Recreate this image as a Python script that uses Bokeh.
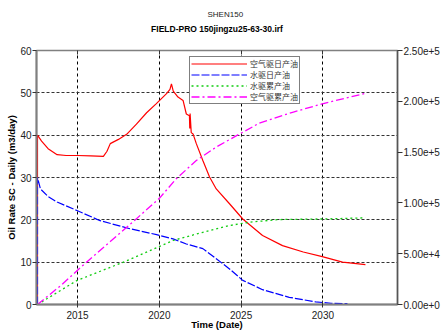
from bokeh.plotting import figure
from bokeh.models import (LinearAxis, Range1d, FixedTicker, Title, Legend,
                          LegendItem)
from bokeh.embed import file_html
from bokeh.resources import INLINE

# ---------------- data ----------------
title_top = "SHEN150"
title_main = "FIELD-PRO 150jingzu25-63-30.irf"
x_label = "Time (Date)"
y_label = "Oil Rate SC - Daily (m3/day)"
legend_labels = ["空气驱日产油", "水驱日产油", "水驱累产油", "空气驱累产油"]

x_ticks = [2015, 2020, 2025, 2030]
y_ticks = [0, 10, 20, 30, 40, 50, 60]
cum_ticks = [0, 50000, 100000, 150000, 200000, 250000]
cum_tick_labels = ["0.00e+0", "5.00e+4", "1.00e+5", "1.50e+5", "2.00e+5", "2.50e+5"]

# air flood daily oil (m3/day)
air_rate_year = [2012.55, 2012.55, 2012.8, 2013.2, 2013.75, 2014.3, 2015.0, 2015.8,
                 2016.58, 2016.8, 2017.0, 2017.5, 2018.0, 2018.6, 2019.22, 2019.8,
                 2020.44, 2020.65, 2020.74, 2020.85, 2021.14, 2021.45, 2021.65, 2021.84,
                 2021.86, 2021.88, 2021.95, 2022.06, 2022.26, 2022.66, 2023.07, 2023.48,
                 2024.29, 2025.1, 2026.31, 2027.53, 2028.8, 2029.96, 2031.2, 2032.6]
air_rate = [0, 40.0, 38.6, 36.8, 35.4, 35.2, 35.2, 35.1,
            35.0, 36.2, 38.0, 39.0, 40.2, 42.6, 45.3, 47.4,
            49.8, 50.8, 52.1, 50.4, 49.0, 48.2, 45.0, 44.6,
            41.6, 45.1, 40.6, 40.3, 38.0, 34.0, 30.1, 27.3,
            23.8, 20.2, 16.3, 13.9, 12.4, 11.3, 10.0, 9.4]

# water flood daily oil (m3/day)
water_rate_year = [2012.55, 2012.55, 2012.73, 2013.2, 2013.75, 2014.96, 2016.38, 2018.2,
                   2019.83, 2020.84, 2021.65, 2022.66, 2023.48, 2024.29, 2025.1, 2026.31,
                   2027.94, 2029.56, 2030.5, 2031.5]
water_rate = [0, 30.0, 27.3, 25.5, 24.2, 22.2, 19.8, 17.9,
              16.5, 15.5, 14.3, 13.2, 10.8, 8.4, 5.7, 3.5,
              1.7, 0.6, 0.3, 0.2]

# water flood cumulative oil (m3)
water_cum_year = [2012.55, 2014.96, 2017.9, 2020.84, 2022.66, 2024.29, 2025.5, 2027.3,
                  2030.4, 2032.6]
water_cum = [0, 23600, 42300, 63000, 71100, 77700, 81000, 83600, 84300, 85300]

# air flood cumulative oil (m3)
air_cum_year = [2012.55, 2014.0, 2015.5, 2017.0, 2018.5, 2020.0, 2021.05, 2022.26,
                2023.48, 2024.9, 2026.1, 2028.14, 2029.96, 2032.6]
air_cum = [0, 19000, 41000, 62000, 83000, 104500, 124000, 141700,
           155000, 167800, 178400, 189200, 197500, 207900]

# ---------------- figure ----------------
FONT = "Liberation Sans"
p = figure(width=442, height=334, output_backend="svg", toolbar_location=None,
           title=None, x_range=Range1d(2012.49, 2034.56), y_range=Range1d(0, 60),
           min_border_left=36, min_border_right=43, min_border_top=50,
           min_border_bottom=30)
p.extra_y_ranges = {"cum": Range1d(0, 250000)}
p.background_fill_color = "white"
p.border_fill_color = "white"
p.outline_line_color = "#808080"
p.outline_line_width = 1.5

xa = p.below[0]
ya = p.left[0]

# top axis: small inward ticks on the top border; its label carries the main title
ta = LinearAxis(ticker=FixedTicker(ticks=x_ticks), axis_label=title_main)
ta.major_tick_in = 4
ta.major_tick_out = 0
ta.minor_tick_line_color = None
ta.major_tick_line_color = "#333333"
ta.axis_line_color = "#808080"
ta.major_label_text_color = None
ta.axis_label_text_font = FONT
ta.axis_label_text_font_size = "8.5px"
ta.axis_label_text_font_style = "bold"
ta.axis_label_text_color = "black"
ta.axis_label_standoff = 17
p.add_layout(ta, "above")

p.add_layout(Title(text=title_top, text_font=FONT, text_font_size="8px",
                   text_font_style="normal", align="left", offset=171, standoff=4,
                   text_color="#222222"), "above")

# axes
xa.ticker = FixedTicker(ticks=x_ticks)
xa.axis_label = x_label
ya.ticker = FixedTicker(ticks=y_ticks)
ya.axis_label = y_label

ra = LinearAxis(y_range_name="cum", ticker=FixedTicker(ticks=cum_ticks), axis_label=None)
ra.major_label_overrides = {t: s for t, s in zip(cum_ticks, cum_tick_labels)}
p.add_layout(ra, "right")

for ax in (xa, ya, ra):
    ax.axis_label_text_font = FONT
    ax.axis_label_text_font_size = "9.5px"
    ax.axis_label_text_font_style = "bold"
    ax.axis_label_text_color = "black"
    ax.axis_label_standoff = 0
    ax.major_label_text_font = FONT
    ax.major_label_text_font_size = "10px"
    ax.major_label_text_color = "#222222"
    ax.major_label_standoff = 2
    ax.minor_tick_line_color = None
    ax.major_tick_line_color = "#333333"
xa.axis_line_color = "#808080"
xa.axis_line_width = 2
xa.major_tick_in = 4
xa.major_tick_out = 3
xa.major_label_standoff = 3
xa.axis_label_standoff = -3
ya.axis_line_color = "#808080"
ya.axis_line_width = 2
ya.major_tick_in = 0
ya.major_tick_out = 4
ya.major_label_standoff = 1
ra.axis_line_color = "#555555"
ra.axis_line_width = 1.5
ra.major_tick_in = 0
ra.major_tick_out = 5
ra.major_label_standoff = 1

# grid
p.xgrid.ticker = FixedTicker(ticks=x_ticks)
p.ygrid.ticker = FixedTicker(ticks=y_ticks)
p.xgrid.grid_line_color = "black"
p.xgrid.grid_line_dash = "3 3"
p.xgrid.grid_line_width = 1
p.ygrid.grid_line_color = "#333333"
p.ygrid.grid_line_dash = "3 2"
p.ygrid.grid_line_width = 1

# series
r_air = p.line(air_rate_year, air_rate, line_color="#ff0000", line_width=1.2)
r_wat = p.line(water_rate_year, water_rate, line_color="#0000ff", line_width=1.2,
               line_dash="8 2")
r_wcum = p.line(water_cum_year, water_cum, line_color="#11cc11", line_width=1.3,
                line_dash="2 3", y_range_name="cum")
r_acum = p.line(air_cum_year, air_cum, line_color="#ff00ff", line_width=1.3,
                line_dash="8 3 2 3", y_range_name="cum")

legend = Legend(items=[LegendItem(label=legend_labels[0], renderers=[r_air]),
                       LegendItem(label=legend_labels[1], renderers=[r_wat]),
                       LegendItem(label=legend_labels[2], renderers=[r_wcum]),
                       LegendItem(label=legend_labels[3], renderers=[r_acum])],
                location=(153, 200))
legend.label_text_font = "Noto Sans CJK SC"
legend.label_text_font_size = "8px"
legend.label_text_color = "#333333"
legend.glyph_width = 56
legend.glyph_height = 9
legend.label_height = 9
legend.label_standoff = 3
legend.spacing = 0
legend.padding = 1
legend.margin = 0
legend.border_line_color = "black"
legend.border_line_width = 1
legend.background_fill_alpha = 1
p.add_layout(legend)

open("out.html", "w").write(file_html(p, INLINE))
